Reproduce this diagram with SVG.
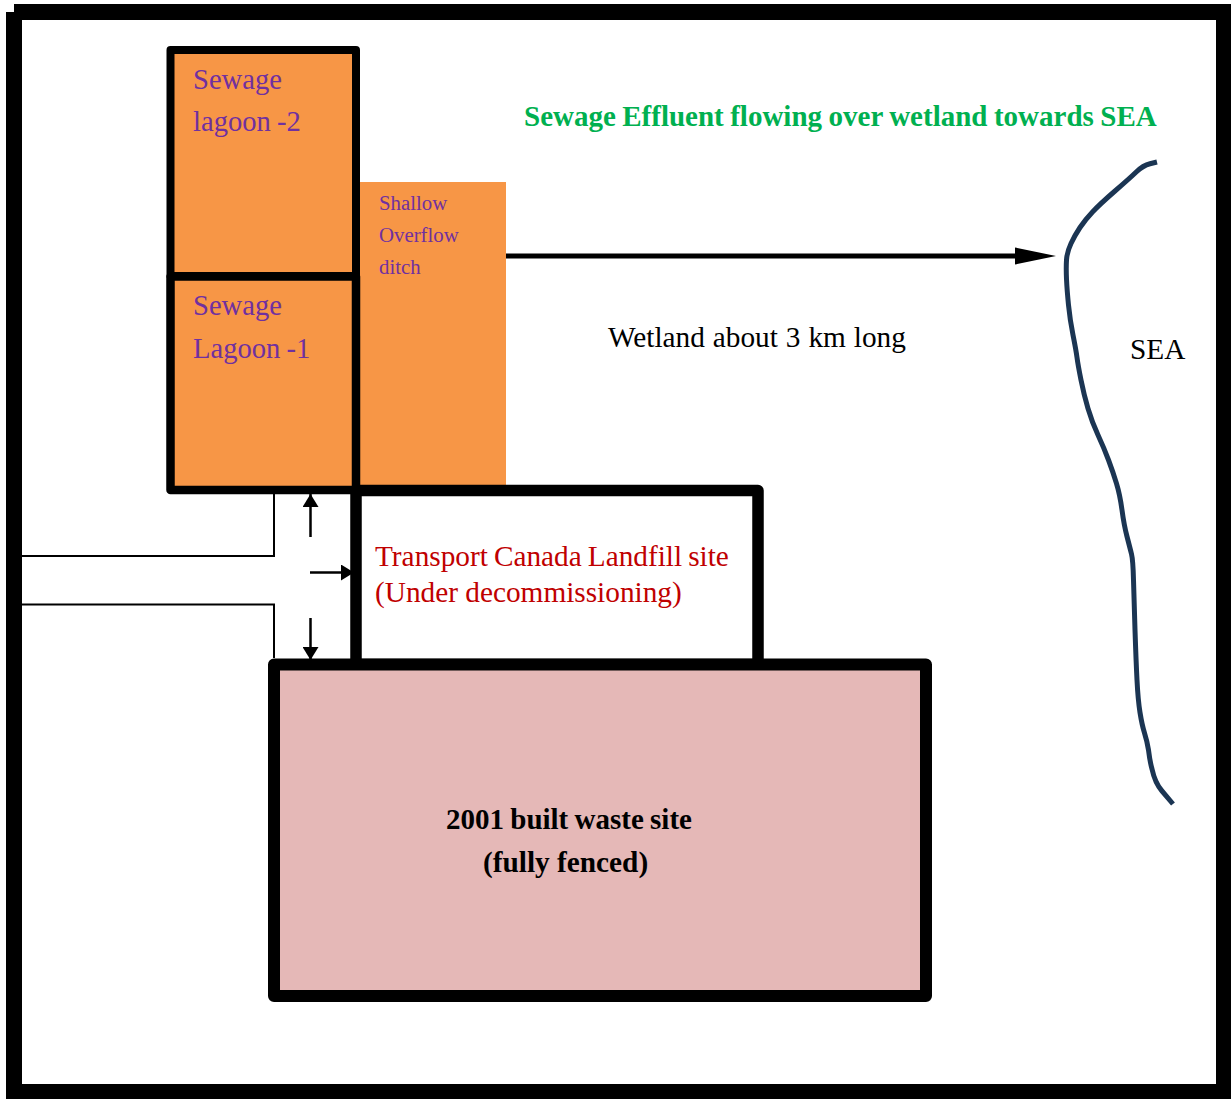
<svg xmlns="http://www.w3.org/2000/svg" width="1231" height="1099" viewBox="0 0 1231 1099">
<style>
text{font-family:"Liberation Serif","Times New Roman",serif}
.box{stroke:#000;stroke-linejoin:round}
.pur{fill:#7030a0;font-size:28.6px;word-spacing:-1px}
.pursm{fill:#7030a0;font-size:20.8px}
.red{fill:#c00000;font-size:29.3px}
.blk{fill:#000;font-size:29.3px;word-spacing:.6px}
.thin{fill:none;stroke:#000;stroke-width:2}
.arr{fill:none;stroke:#000;stroke-width:2.500}
</style>
<defs>
<marker id="h" markerUnits="userSpaceOnUse" markerWidth="16" markerHeight="16" refX="13" refY="8" orient="auto"><path d="M0 0L13 8L0 16Z" fill="#000"/></marker>
</defs>
<rect width="1231" height="1099" fill="#fff"/>
<g id="frame"><path d="M14 4H1231V1099H6V12H14Z M22 20V1084H1216V20Z" fill="#000" fill-rule="evenodd"/></g>
<g id="ditch"><rect x="352" y="182" width="154" height="304" fill="#f79646"/>
<text class="pursm" x="379" y="210">Shallow</text><text class="pursm" x="379" y="242">Overflow</text><text class="pursm" x="379" y="274">ditch</text></g>
<g id="lagoon2"><rect class="box" x="170.500" y="50" width="185.500" height="226" fill="#f79646" stroke-width="8"/>
<text class="pur" x="193" y="89">Sewage</text><text class="pur" x="193" y="131">lagoon -2</text></g>
<g id="lagoon1"><rect class="box" x="170.500" y="276.500" width="185.500" height="213.500" fill="#f79646" stroke-width="8.500"/>
<text class="pur" x="193" y="315">Sewage</text><text class="pur" x="193" y="358">Lagoon -1</text></g>
<g id="landfill"><rect class="box" x="356" y="490.500" width="402" height="174" fill="#fff" stroke-width="11.500"/>
<text class="red" x="375" y="566" word-spacing="-1.300">Transport Canada Landfill site</text><text class="red" x="375" y="602">(Under decommissioning)</text></g>
<g id="waste"><rect class="box" x="274" y="664.500" width="652" height="331.500" fill="#e5b8b7" stroke-width="12"/>
<text x="446" y="829" font-size="29" font-weight="700" word-spacing="-1">2001 built waste site</text><text x="483" y="872" font-size="29.300" font-weight="700">(fully fenced)</text></g>
<g id="labels">
<text x="524" y="126" font-size="29" font-weight="700" fill="#00b050" word-spacing="-.8">Sewage Effluent flowing over wetland towards SEA</text>
<text class="blk" x="608" y="347">Wetland about 3 km long</text>
<text class="blk" x="1130" y="359">SEA</text>
</g>
<g id="connectors">
<path class="thin" d="M22 556H274V494M22 604.500H274V658"/>
<path class="arr" d="M310.500 537V494" marker-end="url(#h)"/>
<path class="arr" d="M310 572.500H354" marker-end="url(#h)"/>
<path class="arr" d="M310.500 618V660" marker-end="url(#h)"/>
<path d="M506 256H1016" stroke="#000" stroke-width="5" fill="none"/>
<path d="M1015 247.500L1056 256L1015 264.500Z" fill="#000"/>
<path d="M1157 162L1150 163.750Q1143 165.500 1136.500 171.750Q1130 178 1115 191Q1100 204 1092.500 212Q1085 220 1080 227.500Q1075 235 1071 243.500Q1067 252 1066.500 260Q1066 268 1066.500 279Q1067 290 1068.500 305Q1070 320 1073 335Q1076 350 1077 357.500Q1078 365 1081 380Q1084 395 1088 408.500Q1092 422 1098 435Q1104 448 1108.500 460Q1113 472 1116.500 483.500Q1120 495 1122 510Q1124 525 1127 536.500Q1130 548 1131.500 554Q1133 560 1133.500 580Q1134 600 1135 630Q1136 660 1137 680Q1138 700 1140 712.500Q1142 725 1144.500 733Q1147 741 1148.500 750Q1150 762 1152 769Q1155 783 1162 791L1173 804" fill="none" stroke="#1b3553" stroke-width="5"/>
</g>
</svg>
